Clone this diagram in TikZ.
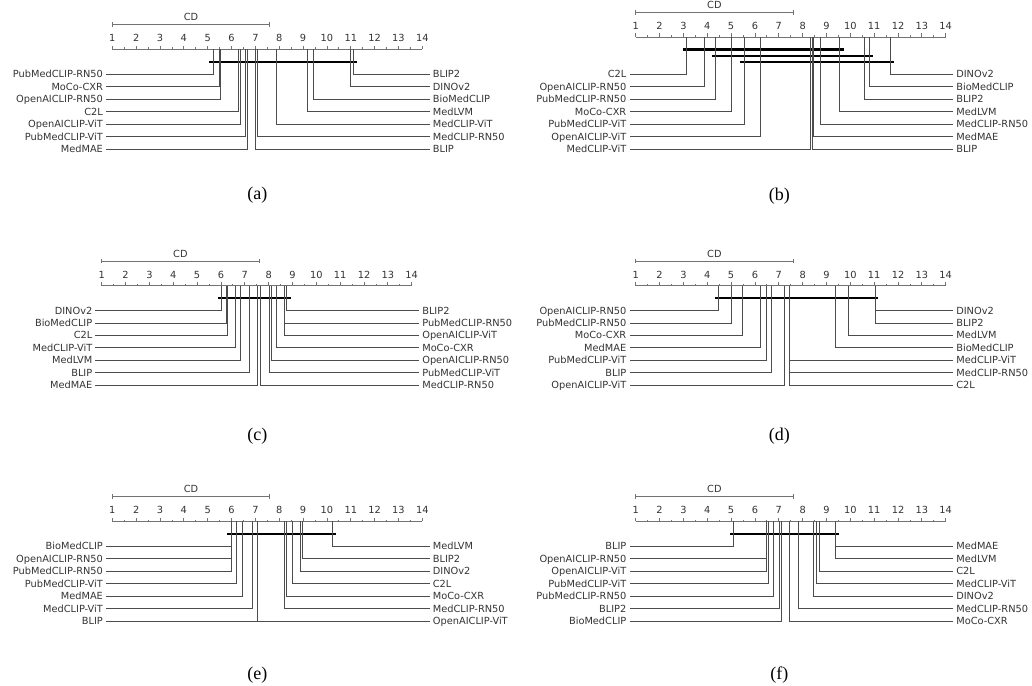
\documentclass[tikz,border=0pt]{standalone}
\usepackage{fontspec}
\usepackage{tikz}

\newfontfamily\cdfont{DejaVu Sans}
\newfontfamily\capfont{Liberation Serif}

\tikzset{
  cdlabel/.style={font=\cdfont\fontsize{9.8}{11}\selectfont, text=black!80,
    inner xsep=3pt, inner ysep=0pt, text height=7.1pt, text depth=0pt},
  rankline/.style={draw=black!70, line width=0.75pt},
  axisline/.style={draw=black!55, line width=0.75pt},
  groupbar/.style={draw=black, line width=2.3pt},
  subcap/.style={font=\capfont\fontsize{18}{20}\selectfont, inner sep=0pt}
}

%% axis, ticks and CD bar of one panel (#1 = name prefix)
\newcommand{\cdaxis}[1]{%
  \draw[axisline] (1,0) -- (14,0);
  \foreach \i in {1,...,14} {
    \draw[axisline] (\i,0) -- (\i,-3.5);
    \node[cdlabel, inner xsep=0pt] (#1t\i) at (\i,-11) {\i};
  }
  \foreach \i in {1.5,2.5,...,13.5}
    \draw[axisline] (\i,0) -- (\i,-1.8);
  \draw[axisline] (1,-24.6) -- (7.6,-24.6);
  \draw[axisline] (1,-22.3) -- (1,-26.9);
  \draw[axisline] (7.6,-22.3) -- (7.6,-26.9);
  \node[cdlabel] (#1cd) at (4.3,-32) {CD};
}

\begin{document}
\begin{tikzpicture}[x=1pt, y=-1pt]
\useasboundingbox (0,0) rectangle (1032,685);

%% (a)
\begin{scope}[xshift=88.45pt, yshift=-49.3pt, x=23.846pt, y=-1pt]
\cdaxis{a}
\draw[groupbar] (5.07,12.7) -- (11.27,12.7);
\foreach \r/\m [count=\k from 0] in {5.24/PubMedCLIP-RN50, 5.50/MoCo-CXR,
    5.55/OpenAICLIP-RN50, 6.30/C2L, 6.35/OpenAICLIP-ViT, 6.56/PubMedCLIP-ViT,
    6.66/MedMAE} {
  \node[cdlabel, anchor=east] (aL\k) at (0.74, 25+12.45*\k) {\m};
  \draw[rankline] (\r,0) |- (aL\k.east);
}
\foreach \r/\m [count=\k from 0] in {11.09/BLIP2, 11.00/DINOv2,
    9.43/BioMedCLIP, 9.18/MedLVM, 7.89/MedCLIP-ViT, 7.09/MedCLIP-RN50,
    7.00/BLIP} {
  \node[cdlabel, anchor=west] (aR\k) at (14.31, 25+12.45*\k) {\m};
  \draw[rankline] (\r,0) |- (aR\k.west);
}
\end{scope}

%% (b)
\begin{scope}[xshift=611.85pt, yshift=-36.9pt, x=23.846pt, y=-1pt]
\cdaxis{b}
\draw[groupbar] (2.97,12.7) -- (9.72,12.7);
\draw[groupbar] (4.19,18.9) -- (10.95,18.9);
\draw[groupbar] (5.39,25.1) -- (11.85,25.1);
\foreach \r/\m [count=\k from 0] in {3.11/C2L, 3.88/OpenAICLIP-RN50,
    4.34/PubMedCLIP-RN50, 5.01/MoCo-CXR, 5.56/PubMedCLIP-ViT,
    6.23/OpenAICLIP-ViT, 8.34/MedCLIP-ViT} {
  \node[cdlabel, anchor=east] (bL\k) at (0.74, 37.4+12.45*\k) {\m};
  \draw[rankline] (\r,0) |- (bL\k.east);
}
\foreach \r/\m [count=\k from 0] in {11.67/DINOv2, 10.81/BioMedCLIP,
    10.59/BLIP2, 9.54/MedLVM, 8.74/MedCLIP-RN50, 8.44/MedMAE, 8.39/BLIP} {
  \node[cdlabel, anchor=west] (bR\k) at (14.31, 37.4+12.45*\k) {\m};
  \draw[rankline] (\r,0) |- (bR\k.west);
}
\end{scope}

%% (c)
\begin{scope}[xshift=77.85pt, yshift=-285.5pt, x=23.846pt, y=-1pt]
\cdaxis{c}
\draw[groupbar] (5.88,12.7) -- (8.93,12.7);
\foreach \r/\m [count=\k from 0] in {6.02/DINOv2, 6.22/BioMedCLIP,
    6.25/C2L, 6.62/MedCLIP-ViT, 6.81/MedLVM, 7.19/BLIP, 7.54/MedMAE} {
  \node[cdlabel, anchor=east] (cL\k) at (0.74, 25+12.45*\k) {\m};
  \draw[rankline] (\r,0) |- (cL\k.east);
}
\foreach \r/\m [count=\k from 0] in {8.74/BLIP2, 8.68/PubMedCLIP-RN50,
    8.65/OpenAICLIP-ViT, 8.34/MoCo-CXR, 8.13/OpenAICLIP-RN50,
    8.03/PubMedCLIP-ViT, 7.64/MedCLIP-RN50} {
  \node[cdlabel, anchor=west] (cR\k) at (14.31, 25+12.45*\k) {\m};
  \draw[rankline] (\r,0) |- (cR\k.west);
}
\end{scope}

%% (d)
\begin{scope}[xshift=611.85pt, yshift=-285.5pt, x=23.846pt, y=-1pt]
\cdaxis{d}
\draw[groupbar] (4.33,12.7) -- (11.18,12.7);
\foreach \r/\m [count=\k from 0] in {4.48/OpenAICLIP-RN50,
    5.01/PubMedCLIP-RN50, 5.46/MoCo-CXR, 6.21/MedMAE, 6.48/PubMedCLIP-ViT,
    6.68/BLIP, 7.23/OpenAICLIP-ViT} {
  \node[cdlabel, anchor=east] (dL\k) at (0.74, 25+12.45*\k) {\m};
  \draw[rankline] (\r,0) |- (dL\k.east);
}
\foreach \r/\m [count=\k from 0] in {11.06/DINOv2, 11.04/BLIP2,
    9.93/MedLVM, 9.37/BioMedCLIP, 7.45/MedCLIP-ViT, 7.44/MedCLIP-RN50,
    7.43/C2L} {
  \node[cdlabel, anchor=west] (dR\k) at (14.31, 25+12.45*\k) {\m};
  \draw[rankline] (\r,0) |- (dR\k.west);
}
\end{scope}

%% (e)
\begin{scope}[xshift=88.45pt, yshift=-521.3pt, x=23.846pt, y=-1pt]
\cdaxis{e}
\draw[groupbar] (5.82,12.7) -- (10.37,12.7);
\foreach \r/\m [count=\k from 0] in {5.98/BioMedCLIP, 5.99/OpenAICLIP-RN50,
    6.00/PubMedCLIP-RN50, 6.21/PubMedCLIP-ViT, 6.45/MedMAE,
    6.88/MedCLIP-ViT, 7.07/BLIP} {
  \node[cdlabel, anchor=east] (eL\k) at (0.74, 25+12.45*\k) {\m};
  \draw[rankline] (\r,0) |- (eL\k.east);
}
\foreach \r/\m [count=\k from 0] in {10.24/MedLVM, 8.98/BLIP2,
    8.90/DINOv2, 8.56/C2L, 8.31/MoCo-CXR, 8.23/MedCLIP-RN50,
    7.08/OpenAICLIP-ViT} {
  \node[cdlabel, anchor=west] (eR\k) at (14.31, 25+12.45*\k) {\m};
  \draw[rankline] (\r,0) |- (eR\k.west);
}
\end{scope}

%% (f)
\begin{scope}[xshift=611.85pt, yshift=-521.3pt, x=23.846pt, y=-1pt]
\cdaxis{f}
\draw[groupbar] (4.97,12.7) -- (9.51,12.7);
\foreach \r/\m [count=\k from 0] in {5.11/BLIP, 6.46/OpenAICLIP-RN50,
    6.48/OpenAICLIP-ViT, 6.56/PubMedCLIP-ViT, 6.79/PubMedCLIP-RN50,
    7.01/BLIP2, 7.11/BioMedCLIP} {
  \node[cdlabel, anchor=east] (fL\k) at (0.74, 25+12.45*\k) {\m};
  \draw[rankline] (\r,0) |- (fL\k.east);
}
\foreach \r/\m [count=\k from 0] in {9.38/MedMAE, 9.36/MedLVM,
    8.70/C2L, 8.59/MedCLIP-ViT, 8.45/DINOv2, 7.81/MedCLIP-RN50,
    7.44/MoCo-CXR} {
  \node[cdlabel, anchor=west] (fR\k) at (14.31, 25+12.45*\k) {\m};
  \draw[rankline] (\r,0) |- (fR\k.west);
}
\end{scope}

%% sub-captions
\node[subcap] (capa) at (257.3,195) {(a)};
\node[subcap] (capb) at (779.3,196) {(b)};
\node[subcap] (capc) at (257.3,436.5) {(c)};
\node[subcap] (capd) at (779.3,436.5) {(d)};
\node[subcap] (cape) at (257.3,675.5) {(e)};
\node[subcap] (capf) at (779.3,675.5) {(f)};

\end{tikzpicture}
\end{document}
